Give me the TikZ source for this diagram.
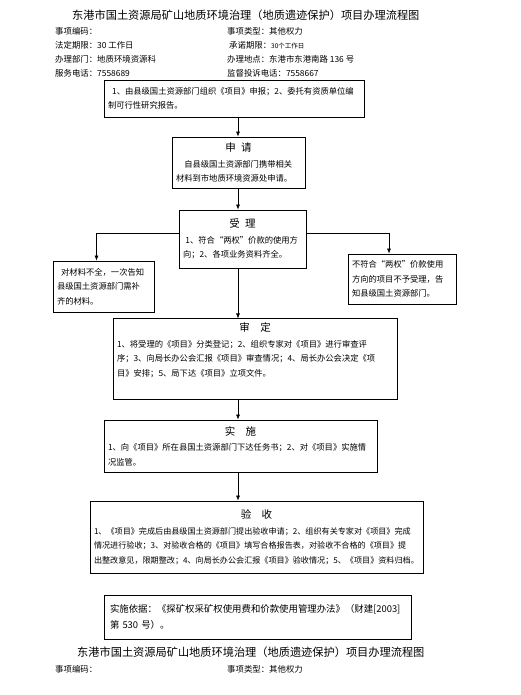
\documentclass[tikz,border=0pt]{standalone}
\usepackage{fontspec}
\setmainfont{Noto Sans CJK SC}
\usetikzlibrary{arrows.meta}

\begin{document}
\begin{tikzpicture}[x=1pt,y=-1pt,
    box/.style={draw,line width=0.8pt,inner sep=4pt,align=left,font=\fontsize{8.3}{14.5}\selectfont},
    hd/.style={anchor=west,inner sep=0pt,font=\fontsize{8.4}{10}\selectfont},
    ttl/.style={anchor=west,inner sep=0pt,font=\fontsize{11.2}{13}\selectfont},
    arr/.style={-{Latex[length=5pt,width=4pt]},line width=0.6pt}]
    \useasboundingbox (0,0) rectangle (521,695);

    % header
    \node[ttl] (title) at (72,15) {东港市国土资源局矿山地质环境治理（地质遗迹保护）项目办理流程图};
    \node[hd] (code) at (55,31) {事项编码：};
    \node[hd] (kind) at (227,31) {事项类型：其他权力};
    \node[hd] (limit) at (55,45) {法定期限：30 工作日};
    \node[hd] (promise) at (229,45) {承诺期限：{\fontsize{6.5}{8}\selectfont 30个工作日}};
    \node[hd] (dept) at (55,59) {办理部门：地质环境资源科};
    \node[hd] (place) at (227,59) {办理地点：东港市东港南路 136 号};
    \node[hd] (tel) at (55,73) {服务电话：7558689};
    \node[hd] (complain) at (227,73) {监督投诉电话：7558667};

    % boxes
    \node[box,text width=252pt,minimum height=37pt] (start) at (234,98.5)
        {\hspace*{0.5em}1、由县级国土资源部门组织《项目》申报；2、委托有资质单位编\\制可行性研究报告。};
    \node[box,text width=125pt,minimum height=51pt] (apply) at (238.5,162.5)
        {\makebox[\linewidth]{\fontsize{10.5}{12}\selectfont 申\enspace 请}\\[1pt]
         \hspace*{1em}自县级国土资源部门携带相关\\材料到市地质环境资源处申请。};
    \node[box,text width=119pt,minimum height=58pt] (accept) at (242.5,239)
        {\makebox[\linewidth]{\fontsize{10.5}{12}\selectfont 受\enspace 理}\\[1pt]
         \hspace*{0.3em}1、符合“两权”价款的使用方\\向；2、各项业务资料齐全。};
    \node[box,text width=93pt,minimum height=51pt] (lack) at (103.5,286.5)
        {\hspace*{0.5em}对材料不全，一次告知\\县级国土资源部门需补\\齐的材料。};
    \node[box,text width=100pt,minimum height=50pt] (reject) at (402,279)
        {不符合“两权”价款使用\\方向的项目不予受理，告\\知县级国土资源部门。};
    \node[box,text width=276pt,minimum height=78pt] (review) at (255,359)
        {\makebox[\linewidth]{\fontsize{10.5}{12}\selectfont 审\quad 定}\\[1pt]
         1、将受理的《项目》分类登记；2、组织专家对《项目》进行审查评\\
         序；3、向局长办公会汇报《项目》审查情况；4、局长办公会决定《项\\
         目》安排；5、局下达《项目》立项文件。\\ \strut};
    \node[box,text width=265pt,minimum height=52pt] (implement) at (240.5,446)
        {\makebox[\linewidth]{\fontsize{10.5}{12}\selectfont 实\quad 施}\\[1pt]
         1、向《项目》所在县国土资源部门下达任务书；2、对《项目》实施情\\况监管。};
    \node[box,text width=325pt,minimum height=72pt,font=\fontsize{8.1}{14.5}\selectfont] (check) at (256.5,537)
        {\makebox[\linewidth]{\fontsize{10.5}{12}\selectfont 验\quad 收}\\[1pt]
         1、《项目》完成后由县级国土资源部门提出验收申请；2、组织有关专家对《项目》完成\\
         情况进行验收；3、对验收合格的《项目》填写合格报告表，对验收不合格的《项目》提\\
         出整改意见，限期整改；4、向局长办公会汇报《项目》验收情况；5、《项目》资料归档。};
    \node[box,inner sep=6pt,text width=295pt,minimum height=44pt,font=\fontsize{9.4}{16}\selectfont] (basis) at (257.5,617)
        {实施依据：《探矿权采矿权使用费和价款使用管理办法》（财建[2003]\\第 530 号）。};

    % repeated header at the foot
    \node[ttl] (title2) at (77,652) {东港市国土资源局矿山地质环境治理（地质遗迹保护）项目办理流程图};
    \node[hd] (code2) at (55,669) {事项编码：};
    \node[hd] (kind2) at (227,669) {事项类型：其他权力};

    % connectors
    \coordinate (spine) at (238,0);
    \coordinate (branch) at (0,233);
    \draw[arr] (start.south -| spine) -- (apply.north -| spine);
    \draw[arr] (apply.south -| spine) -- (accept.north -| spine);
    \draw[arr] (accept.west |- branch) -| ([xshift=-7pt]lack.north);
    \draw[arr] (accept.east |- branch) -| ([xshift=-13pt]reject.north);
    \draw[arr] (accept.south -| spine) -- (review.north -| spine);
    \draw[arr] (review.south -| spine) -- (implement.north -| spine);
    \draw[arr] (implement.south -| spine) -- (check.north -| spine);
\end{tikzpicture}
\end{document}
